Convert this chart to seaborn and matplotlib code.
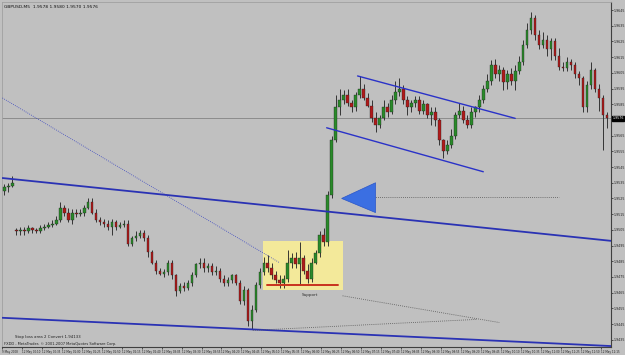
import matplotlib
matplotlib.use("Agg")
import matplotlib.pyplot as plt
import matplotlib.transforms as mtransforms
from matplotlib.patches import Rectangle, Polygon
import seaborn as sns
import pandas as pd

# ---------------- data (GBPUSD M5) ----------------
opens = [
    1.9530, 1.9532, 1.9533, 1.9505, 1.9504, 1.9505, 1.9504, 1.9506, 1.9505, 1.9504,
    1.9506, 1.9507, 1.9508, 1.9509, 1.9511, 1.9519, 1.9516, 1.9511, 1.9516, 1.9515,
    1.9516, 1.9519, 1.9523, 1.9516, 1.9511, 1.9510, 1.9509, 1.9507, 1.9510, 1.9507,
    1.9508, 1.9509, 1.9496, 1.9500, 1.9501, 1.9503, 1.9500, 1.9491, 1.9484, 1.9479,
    1.9477, 1.9478, 1.9484, 1.9476, 1.9466, 1.9469, 1.9468, 1.9471, 1.9476, 1.9483,
    1.9484, 1.9481, 1.9482, 1.9478, 1.9479, 1.9474, 1.9471, 1.9473, 1.9476, 1.9471,
    1.9460, 1.9467, 1.9447, 1.9454, 1.9470, 1.9478, 1.9484, 1.9481, 1.9476, 1.9473,
    1.9471, 1.9474, 1.9484, 1.9487, 1.9483, 1.9487, 1.9479, 1.9474, 1.9484, 1.9490,
    1.9502, 1.9497, 1.9527, 1.9562, 1.9583, 1.9588, 1.9591, 1.9586, 1.9583, 1.9591,
    1.9595, 1.9589, 1.9584, 1.9576, 1.9572, 1.9576, 1.9583, 1.9580, 1.9588, 1.9593,
    1.9595, 1.9588, 1.9583, 1.9586, 1.9588, 1.9581, 1.9585, 1.9578, 1.9580, 1.9575,
    1.9562, 1.9555, 1.9559, 1.9565, 1.9578, 1.9581, 1.9575, 1.9572, 1.9580, 1.9583,
    1.9588, 1.9595, 1.9600, 1.9610, 1.9604, 1.9607, 1.9599, 1.9604, 1.9600, 1.9606,
    1.9612, 1.9623, 1.9632, 1.9640, 1.9629, 1.9623, 1.9626, 1.9620, 1.9625, 1.9616,
    1.9609, 1.9608, 1.9612, 1.9610, 1.9604, 1.9602, 1.9583, 1.9597, 1.9607, 1.9595,
    1.9589, 1.9578,
]
highs = [
    1.9534, 1.9535, 1.9539, 1.9506, 1.9507, 1.9507, 1.9508, 1.9507, 1.9506, 1.9508,
    1.9509, 1.9510, 1.9511, 1.9514, 1.9523, 1.9521, 1.9519, 1.9518, 1.9518, 1.9518,
    1.9521, 1.9525, 1.9525, 1.9518, 1.9513, 1.9512, 1.9511, 1.9512, 1.9511, 1.9510,
    1.9511, 1.9511, 1.9501, 1.9504, 1.9505, 1.9505, 1.9502, 1.9492, 1.9486, 1.9481,
    1.9480, 1.9486, 1.9486, 1.9477, 1.9471, 1.9472, 1.9473, 1.9478, 1.9484, 1.9487,
    1.9487, 1.9484, 1.9484, 1.9482, 1.9481, 1.9476, 1.9475, 1.9477, 1.9477, 1.9473,
    1.9469, 1.9468, 1.9457, 1.9472, 1.9481, 1.9488, 1.9489, 1.9484, 1.9479, 1.9476,
    1.9476, 1.9492, 1.9490, 1.9491, 1.9497, 1.9489, 1.9483, 1.9487, 1.9492, 1.9504,
    1.9506, 1.9530, 1.9565, 1.9591, 1.9595, 1.9594, 1.9595, 1.9588, 1.9593, 1.9603,
    1.9598, 1.9592, 1.9588, 1.9580, 1.9578, 1.9588, 1.9586, 1.9591, 1.9600, 1.9602,
    1.9597, 1.9590, 1.9588, 1.9590, 1.9590, 1.9588, 1.9586, 1.9583, 1.9583, 1.9576,
    1.9563, 1.9562, 1.9569, 1.9580, 1.9586, 1.9584, 1.9578, 1.9583, 1.9584, 1.9591,
    1.9597, 1.9604, 1.9613, 1.9614, 1.9610, 1.9609, 1.9607, 1.9608, 1.9610, 1.9616,
    1.9626, 1.9637, 1.9644, 1.9642, 1.9632, 1.9631, 1.9629, 1.9627, 1.9627, 1.9621,
    1.9612, 1.9615, 1.9614, 1.9612, 1.9606, 1.9603, 1.9600, 1.9612, 1.9608, 1.9598,
    1.9591, 1.9580,
]
lows = [
    1.9527, 1.9529, 1.9532, 1.9502, 1.9502, 1.9502, 1.9503, 1.9503, 1.9503, 1.9503,
    1.9505, 1.9506, 1.9507, 1.9508, 1.9510, 1.9514, 1.9510, 1.9509, 1.9513, 1.9514,
    1.9514, 1.9518, 1.9515, 1.9510, 1.9508, 1.9507, 1.9505, 1.9502, 1.9505, 1.9506,
    1.9507, 1.9495, 1.9495, 1.9498, 1.9500, 1.9498, 1.9488, 1.9483, 1.9477, 1.9476,
    1.9475, 1.9476, 1.9474, 1.9463, 1.9465, 1.9466, 1.9467, 1.9469, 1.9475, 1.9481,
    1.9478, 1.9478, 1.9476, 1.9476, 1.9472, 1.9469, 1.9469, 1.9471, 1.9470, 1.9458,
    1.9457, 1.9444, 1.9442, 1.9453, 1.9468, 1.9476, 1.9478, 1.9474, 1.9471, 1.9468,
    1.9468, 1.9472, 1.9481, 1.9481, 1.9470, 1.9477, 1.9471, 1.9472, 1.9483, 1.9488,
    1.9495, 1.9495, 1.9525, 1.9561, 1.9578, 1.9585, 1.9584, 1.9580, 1.9581, 1.9589,
    1.9588, 1.9583, 1.9574, 1.9567, 1.9570, 1.9575, 1.9577, 1.9579, 1.9585, 1.9590,
    1.9585, 1.9578, 1.9580, 1.9583, 1.9579, 1.9579, 1.9576, 1.9572, 1.9571, 1.9559,
    1.9551, 1.9553, 1.9557, 1.9563, 1.9576, 1.9573, 1.9570, 1.9570, 1.9577, 1.9580,
    1.9586, 1.9593, 1.9597, 1.9602, 1.9600, 1.9594, 1.9595, 1.9597, 1.9594, 1.9604,
    1.9610, 1.9621, 1.9630, 1.9626, 1.9620, 1.9621, 1.9616, 1.9613, 1.9613, 1.9607,
    1.9606, 1.9606, 1.9607, 1.9602, 1.9597, 1.9580, 1.9580, 1.9595, 1.9593, 1.9581,
    1.9556, 1.9570,
]
closes = [
    1.9532, 1.9533, 1.9535, 1.9504, 1.9505, 1.9504, 1.9506, 1.9505, 1.9504, 1.9506,
    1.9507, 1.9508, 1.9509, 1.9511, 1.9519, 1.9516, 1.9511, 1.9516, 1.9515, 1.9516,
    1.9519, 1.9523, 1.9516, 1.9511, 1.9510, 1.9509, 1.9507, 1.9510, 1.9507, 1.9508,
    1.9509, 1.9496, 1.9500, 1.9501, 1.9503, 1.9500, 1.9491, 1.9484, 1.9479, 1.9477,
    1.9478, 1.9484, 1.9476, 1.9466, 1.9469, 1.9468, 1.9471, 1.9476, 1.9483, 1.9484,
    1.9481, 1.9482, 1.9478, 1.9479, 1.9474, 1.9471, 1.9473, 1.9476, 1.9471, 1.9460,
    1.9467, 1.9447, 1.9454, 1.9470, 1.9478, 1.9484, 1.9481, 1.9476, 1.9473, 1.9471,
    1.9474, 1.9484, 1.9487, 1.9483, 1.9487, 1.9479, 1.9474, 1.9484, 1.9490, 1.9502,
    1.9497, 1.9527, 1.9562, 1.9583, 1.9588, 1.9591, 1.9586, 1.9583, 1.9591, 1.9595,
    1.9589, 1.9584, 1.9576, 1.9572, 1.9576, 1.9583, 1.9580, 1.9588, 1.9593, 1.9595,
    1.9588, 1.9583, 1.9586, 1.9588, 1.9581, 1.9585, 1.9578, 1.9580, 1.9575, 1.9562,
    1.9555, 1.9559, 1.9565, 1.9578, 1.9581, 1.9575, 1.9572, 1.9580, 1.9583, 1.9588,
    1.9595, 1.9600, 1.9610, 1.9604, 1.9607, 1.9599, 1.9604, 1.9600, 1.9606, 1.9612,
    1.9623, 1.9632, 1.9640, 1.9629, 1.9623, 1.9626, 1.9620, 1.9625, 1.9616, 1.9609,
    1.9608, 1.9612, 1.9610, 1.9604, 1.9602, 1.9583, 1.9597, 1.9607, 1.9595, 1.9589,
    1.9578, 1.9576,
]

price_ticks = [1.9645, 1.9635, 1.9625, 1.9615, 1.9605, 1.9595, 1.9585, 1.9575,
               1.9565, 1.9555, 1.9545, 1.9535, 1.9525, 1.9515, 1.9505, 1.9495,
               1.9485, 1.9475, 1.9465, 1.9455, 1.9445, 1.9435]

time_tick_bars = list(range(0, 151, 5))
time_labels = ["9 May 2008", "12 May 00:10", "12 May 00:35", "12 May 01:00", "12 May 01:25",
               "12 May 01:50", "12 May 02:15", "12 May 02:40", "12 May 03:05", "12 May 03:30",
               "12 May 03:55", "12 May 04:20", "12 May 04:45", "12 May 05:10", "12 May 05:35",
               "12 May 06:00", "12 May 06:25", "12 May 06:50", "12 May 07:15", "12 May 07:40",
               "12 May 08:05", "12 May 08:30", "12 May 08:55", "12 May 09:20", "12 May 09:45",
               "12 May 10:10", "12 May 10:35", "12 May 11:00", "12 May 11:25", "12 May 11:50",
               "12 May 12:15"]

# drawing objects (bar index, price)
trend_long_bars = [-0.5, 152]
trend_long_prices = [1.9538, 1.9498]
trend_bottom_bars = [-0.5, 152]
trend_bottom_prices = [1.9449, 1.9431]
trend_dotted_bars = [-0.5, 69]
trend_dotted_prices = [1.9589, 1.9484]
channel_up_bars = [88.5, 128]
channel_up_prices = [1.9603, 1.9576]
channel_low_bars = [80.75, 120]
channel_low_prices = [1.9570, 1.9542]
hline_dotted_bars = [90.25, 139]
hline_dotted_price = 1.9526
fan_a_bars = [84.75, 124]
fan_a_prices = [1.9463, 1.9446]
fan_b_bars = [62.25, 118.5]
fan_b_prices = [1.9441, 1.9448]
box_bars = [64.75, 84.75]
box_prices = [1.9467, 1.9498]
support_bars = [65.75, 83.5]
support_price = 1.9470
arrow_bars = [84.5, 93, 93]
arrow_prices = [1.9525, 1.9535, 1.9516]

# ---------------- style ----------------
sns.set_theme(style="white")
plt.rcParams["font.family"] = ["DejaVu Sans"]
BG = "#c0c0c0"
BULL = "#2a8a2a"
BEAR = "#b01a1a"
WICK = "#2a2a2a"

fig = plt.figure(figsize=(6.25, 3.55), dpi=100, facecolor=BG)
ax = fig.add_axes([2 / 625, 8 / 355, 609 / 625, 345 / 355])
ax.set_facecolor(BG)
ax.set_xlim(-0.5, 152)
ax.set_ylim(1.94304, 1.96501)

df = pd.DataFrame({"o": opens, "h": highs, "l": lows, "c": closes})
df["i"] = range(len(df))

# yellow box (behind candles)
ax.add_patch(Rectangle((box_bars[0], box_prices[0]), box_bars[1] - box_bars[0],
                       box_prices[1] - box_prices[0], facecolor="#f3e99a",
                       edgecolor="none", zorder=1))

# bid line
ax.axhline(closes[-1], color="#8c8c8c", lw=0.7, zorder=1.5)

# candles
ax.vlines(df["i"], df["l"], df["h"], color=WICK, lw=0.65, zorder=3)
for _, r in df.iterrows():
    lo = min(r.o, r.c)
    hgt = max(abs(r.c - r.o), 0.00003)
    col = BULL if r.c >= r.o else BEAR
    ax.bar(r.i, hgt, bottom=lo, width=0.65, color=col, edgecolor="#1e1e1e",
           linewidth=0.25, zorder=4)

def seg(xs, ys, **kw):
    d = pd.DataFrame({"x": xs, "y": ys})
    sns.lineplot(data=d, x="x", y="y", ax=ax, estimator=None, sort=False, **kw)

seg(trend_long_bars, trend_long_prices, color="#2a32b4", lw=1.3, zorder=5)
seg(trend_bottom_bars, trend_bottom_prices, color="#2a32b4", lw=1.3, zorder=5)
seg(trend_dotted_bars, trend_dotted_prices, color="#3a46c0", lw=0.6, linestyle=(0, (1, 1.5)), zorder=5)
seg(channel_up_bars, channel_up_prices, color="#2a32c8", lw=1.0, zorder=5)
seg(channel_low_bars, channel_low_prices, color="#2a32c8", lw=1.0, zorder=5)
seg(hline_dotted_bars, [hline_dotted_price] * 2, color="#555555", lw=0.6, linestyle=(0, (1, 1.5)), zorder=5)
seg(fan_a_bars, fan_a_prices, color="#555555", lw=0.6, linestyle=(0, (1, 1.5)), zorder=5)
seg(fan_b_bars, fan_b_prices, color="#555555", lw=0.6, linestyle=(0, (1, 1.5)), zorder=5)
seg(support_bars, [support_price] * 2, color="#c8321e", lw=1.4, zorder=5)

ax.add_patch(Polygon(list(zip(arrow_bars, arrow_prices)), closed=True,
                     facecolor="#3b6fe2", edgecolor="#2a55c8", lw=0.5, zorder=6))

ax.text(76.5, 1.94635, "Support", fontsize=3.0, color="#303030", ha="center", va="center", zorder=6)

# texts
ax.text(0.004, 0.992, "GBPUSD,M5  1.9578 1.9580 1.9570 1.9576", transform=ax.transAxes,
        fontsize=3.2, color="#101010", ha="left", va="top")
ax.text(0.022, 0.024, "Stop loss area 2 Convert 1.94133", transform=ax.transAxes,
        fontsize=2.8, color="#202020", ha="left", va="bottom")
ax.text(0.003, 0.004, "FXDD - MetaTrader, \u00a9 2001-2007 MetaQuotes Software Corp.",
        transform=ax.transAxes, fontsize=2.6, color="#202020", ha="left", va="bottom")

# axes
ax.set_xlabel("")
ax.set_ylabel("")
ax.yaxis.tick_right()
ax.set_yticks(price_ticks)
bid = closes[-1]
ax.set_yticklabels(["" if abs(p - bid) < 0.0003 else f"{p:.4f}" for p in price_ticks])
ax.tick_params(axis="y", which="both", right=True, left=False, length=1.2, width=0.5,
               pad=0.6, labelsize=2.3, colors="#202020")
ax.set_xticks([b - 0.6 for b in time_tick_bars])
ax.set_xticklabels(time_labels, ha="left")
ax.tick_params(axis="x", which="both", bottom=True, length=1.5, width=0.5, pad=0.6,
               labelsize=2.0, colors="#202020")
for s in ("top", "left"):
    ax.spines[s].set_color("#a0a0a0")
    ax.spines[s].set_linewidth(0.6)
for s in ("right", "bottom"):
    ax.spines[s].set_color("#404040")
    ax.spines[s].set_linewidth(0.8)
ax.grid(False)

# bid label on the price axis
trans = mtransforms.blended_transform_factory(ax.transAxes, ax.transData)
ax.text(1.002, bid, f"{bid:.4f}", transform=trans, fontsize=2.3,
        color="white", ha="left", va="center",
        bbox=dict(boxstyle="square,pad=0.1", fc="black", ec="black"), clip_on=False)

fig.savefig("out.png", dpi=100, facecolor=BG)
